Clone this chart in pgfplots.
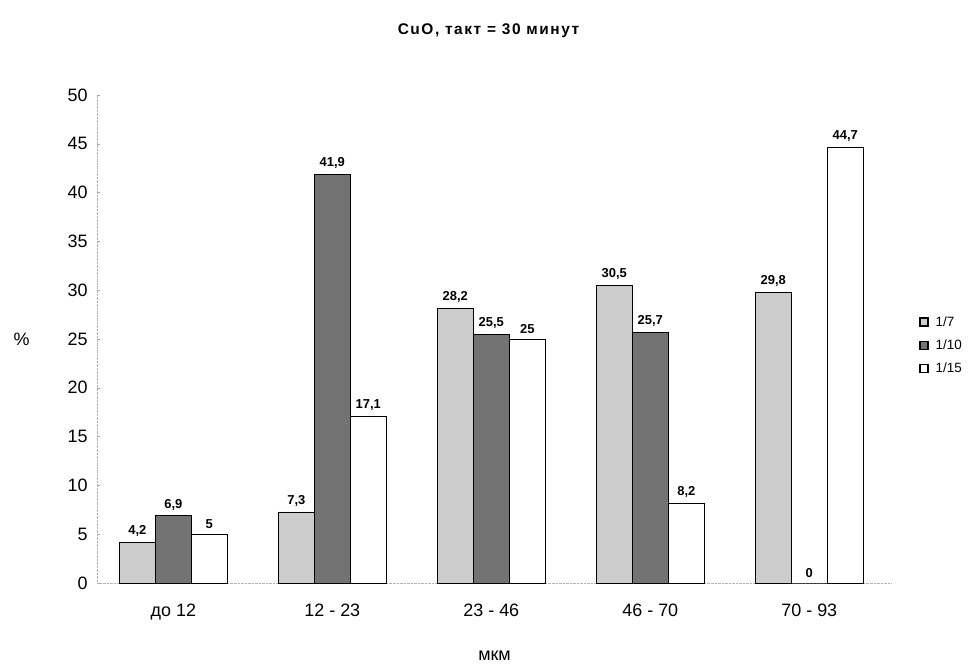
\documentclass[border=0pt]{standalone}
\usepackage{fontspec}
\setmainfont{Liberation Sans}
\usepackage{pgfplots}
\pgfplotsset{compat=1.18}

\definecolor{lightbar}{gray}{0.80}
\definecolor{darkbar}{gray}{0.45}

\begin{document}
\begin{tikzpicture}
\begin{axis}[
  scale only axis,
  width=795bp, height=488bp,
  ybar=0pt, bar width=36bp,
  xmin=-0.48, xmax=4.52,
  ymin=0, ymax=50,
  ytick={0,5,...,50},
  xtick={0,1,2,3,4},
  xticklabels={до 12, 12 - 23, 23 - 46, 46 - 70, 70 - 93},
  extra x ticks={0.5,1.5,2.5,3.5},
  extra x tick labels={},
  extra x tick style={major tick length=3bp, tick style={gray!70}},
  x tick style={draw=none},
  y tick style={gray!70},
  major tick length=3bp,
  axis x line*=bottom, axis y line*=left,
  axis line style={gray!60, densely dotted, -},
  /pgf/number format/assume math mode=true,
  ticklabel style={font=\fontsize{18}{20}\selectfont},
  yticklabel style={xshift=-6bp},
  xticklabel style={yshift=-14bp},
  ylabel={\%},
  ylabel style={font=\fontsize{18}{20}\selectfont, rotate=-90, at={(rel axis cs:0,0.5)}, xshift=-64bp},
  xlabel={мкм},
  xlabel style={font=\fontsize{18}{20}\selectfont, yshift=-19bp},
  title={CuO, такт = 30 минут},
  title style={font=\fontsize{15.5}{17}\selectfont\bfseries\addfontfeature{LetterSpace=10}, yshift=48bp, xshift=-6bp},
  nodes near coords,
  every node near coord/.append style={font=\fontsize{13}{15}\selectfont\bfseries, text=black, yshift=2bp},
  /pgf/number format/.cd, use comma, fixed, precision=1, /pgfplots/.cd,
  legend style={draw=none, fill=none, at={(1.034,0.487)}, anchor=west,
    font=\fontsize{13.5}{15}\selectfont, row sep=8bp, inner sep=0pt},
  legend image code/.code={\draw[#1, line width=1.5pt] (0bp,-4bp) rectangle (8bp,4bp);},
  legend cell align=left,
]
\addplot[draw=black, fill=lightbar] coordinates {(0,4.2) (1,7.3) (2,28.2) (3,30.5) (4,29.8)};
\addplot[draw=black, fill=darkbar] coordinates {(0,6.9) (1,41.9) (2,25.5) (3,25.7) (4,0)};
\addplot[draw=black, fill=white] coordinates {(0,5) (1,17.1) (2,25) (3,8.2) (4,44.7)};
\legend{\hspace{5bp}1/7, \hspace{5bp}1/10, \hspace{5bp}1/15}
\end{axis}
\pgfresetboundingbox
\useasboundingbox (-97bp,-83bp) rectangle (871bp,583bp);
\end{tikzpicture}
\end{document}
